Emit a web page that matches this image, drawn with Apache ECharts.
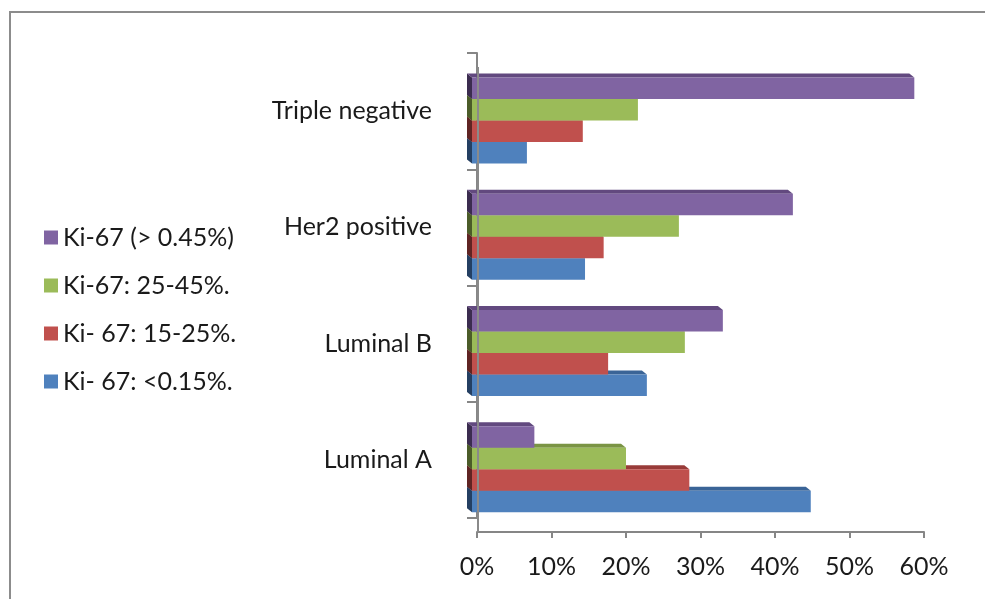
<!DOCTYPE html>
<html>
<head>
<meta charset="utf-8">
<script src="https://cdn.jsdelivr.net/npm/echarts@6/dist/echarts.min.js"></script>
<style>
html,body{margin:0;padding:0;background:#fff;}
#chart{width:985px;height:599px;}
</style>
</head>
<body>
<div id="chart"></div>
<script>
// ---- data ----
const categories = ['Luminal A', 'Luminal B', 'Her2 positive', 'Triple negative'];
const seriesNames = ['Ki- 67: <0.15%.', 'Ki- 67: 15-25%.', 'Ki-67: 25-45%.', 'Ki-67 (> 0.45%)'];
const lowKi67 = [44.8, 22.8, 14.5, 6.7];        // <0.15%
const midKi67 = [28.5, 17.6, 17.0, 14.2];       // 15-25%
const highKi67 = [20.0, 27.9, 27.1, 21.6];      // 25-45%
const veryHighKi67 = [7.7, 33.0, 42.4, 58.7];   // > 0.45%
const xTicks = [0, 10, 20, 30, 40, 50, 60];

const seriesValues = [lowKi67, midKi67, highKi67, veryHighKi67];
const colors = ['#4f81bd', '#c0504d', '#9bbb59', '#8064a2'];
const topColors = ['#3a6497', '#983b39', '#7a9444', '#62497f'];
const sideColors = ['#243f62', '#5f2423', '#4b5c29', '#3b2c4f'];

const chart = echarts.init(document.getElementById('chart'));

function makeBarRender(s) {
  return function (params, api) {
    const ci = api.value(1);
    const v = api.value(0);
    const p0 = api.coord([0, ci]);
    const p1 = api.coord([v, ci]);
    const band = api.size([0, 1])[1];
    const h = band * 0.185;
    const k = 3 - s;
    const top = p0[1] + band * 0.08 - 2 * h + k * h;
    const x0 = p0[0] - 5;
    const x1 = p1[0];
    const dx = -5, dy = -4;
    return {
      type: 'group',
      children: [
        { type: 'polygon', shape: { points: [[x0, top], [x0, top + h], [x0 + dx, top + h + dy], [x0 + dx, top + dy]] }, style: { fill: sideColors[s] } },
        { type: 'polygon', shape: { points: [[x0, top], [x1, top], [x1 + dx, top + dy], [x0 + dx, top + dy]] }, style: { fill: topColors[s] } },
        { type: 'rect', shape: { x: x0, y: top, width: x1 - x0, height: h }, style: { fill: colors[s] } }
      ]
    };
  };
}

const series = seriesValues.map((vals, s) => ({
  name: seriesNames[s],
  type: 'custom',
  itemStyle: { color: colors[s] },
  encode: { x: 0, y: 1 },
  data: vals.map((v, i) => [v, i]),
  renderItem: makeBarRender(s),
  z: 2 + s
}));

// zero wall line (front floor offset)
series.push({
  name: 'zero',
  type: 'custom',
  encode: { x: 0, y: 1 },
  data: [[0, 0]],
  silent: true,
  z: 10,
  renderItem: function (params, api) {
    const band = api.size([0, 1])[1];
    const pTop = api.coord([0, categories.length - 1]);
    const pBot = api.coord([0, 0]);
    const x = pTop[0] + 1;
    return {
      type: 'line',
      shape: { x1: x, y1: pTop[1] - band / 2 + 14, x2: x, y2: pBot[1] + band / 2 + 14 },
      style: { stroke: '#8a8a8a', lineWidth: 2 }
    };
  }
});

chart.setOption({
  animation: false,
  backgroundColor: '#fff',
  textStyle: { fontFamily: 'Lato' },
  graphic: [
    { type: 'polyline', shape: { points: [[10, 599], [10, 12], [985, 12]] }, style: { stroke: '#8c8c8c', lineWidth: 2, fill: null } }
  ],
  legend: {
    data: seriesNames.slice().reverse(),
    orient: 'vertical',
    left: 39,
    top: 220,
    icon: 'rect',
    itemWidth: 14,
    itemHeight: 14,
    itemGap: 23,
    textStyle: { fontFamily: 'Lato', fontSize: 25, color: '#1a1a1a', lineHeight: 25 }
  },
  grid: { left: 477, right: 61, top: 53, bottom: 81, containLabel: false },
  xAxis: {
    type: 'value',
    min: 0,
    max: 60,
    interval: 10,
    offset: 14,
    axisLine: { show: true, lineStyle: { color: '#868686', width: 2 } },
    axisTick: { show: true, length: 6, lineStyle: { color: '#868686', width: 2 } },
    splitLine: { show: false },
    axisLabel: { formatter: v => v + '%', fontFamily: 'Lato', fontSize: 25, color: '#1a1a1a', margin: 22 }
  },
  yAxis: {
    type: 'category',
    data: categories,
    offset: 17,
    axisLine: { show: true, lineStyle: { color: '#868686', width: 2 } },
    axisTick: { show: true, length: 10, lineStyle: { color: '#868686', width: 2 } },
    axisLabel: { fontFamily: 'Lato', fontSize: 25, color: '#1a1a1a', margin: 28 }
  },
  series: series
});
</script>
</body>
</html>
